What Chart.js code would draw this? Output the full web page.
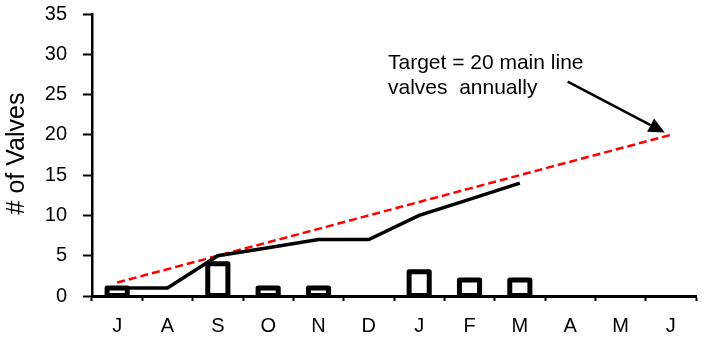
<!DOCTYPE html>
<html>
<head>
<meta charset="utf-8">
<script src="https://cdn.jsdelivr.net/npm/chart.js@4/dist/chart.umd.min.js"></script>
<style>
  html, body { margin: 0; padding: 0; background: #fff; }
  #wrap { width: 705px; height: 343px; }
</style>
</head>
<body>
<div id="wrap"><canvas id="c" width="705" height="343"></canvas></div>
<script>
// Fiscal-year months (July through June)
const months = ['J', 'A', 'S', 'O', 'N', 'D', 'J', 'F', 'M', 'A', 'M', 'J'];
// Main line valves exercised each month
const monthlyValves = [1, 0, 4, 1, 1, 0, 3, 2, 2, null, null, null];
// Running total for the year to date
const cumulativeValves = [1, 1, 5, 6, 7, 7, 10, 12, 14, null, null, null];
// Straight-line path to the annual target of 20
const targetPath = [1.67, 3.33, 5, 6.67, 8.33, 10, 11.67, 13.33, 15, 16.67, 18.33, 20];
const yTicks = [0, 5, 10, 15, 20, 25, 30, 35];

const yAxisTitle = '# of Valves';
const noteLines = ['Target = 20 main line', 'valves  annually'];

const FONT = "'Liberation Sans', Arial, sans-serif";

// Hollow monthly bars: outline stroked centred on each bar's edges
const hollowBarsPlugin = {
  id: 'hollowBars',
  afterDatasetDraw(chart, args) {
    const meta = args.meta;
    if (meta.type !== 'bar') return;
    const ctx = chart.ctx;
    ctx.save();
    ctx.strokeStyle = '#000';
    ctx.lineWidth = 5;
    ctx.lineJoin = 'round';
    meta.data.forEach((bar, i) => {
      const v = meta._parsed[i] && meta._parsed[i].y;
      if (v === null || v === undefined || v === 0 || isNaN(v)) return;
      const { x, y, base, width } = bar.getProps(['x', 'y', 'base', 'width'], true);
      ctx.strokeRect(x - width / 2, y, width, base - y);
    });
    ctx.restore();
  }
};

// Value-axis labels and rotated title
const yAxisTextPlugin = {
  id: 'yAxisText',
  afterDraw(chart) {
    const { ctx, chartArea, scales: { y } } = chart;
    ctx.save();
    ctx.fillStyle = '#000';
    ctx.font = '20px ' + FONT;
    ctx.textAlign = 'right';
    ctx.textBaseline = 'middle';
    y.ticks.forEach(t => {
      ctx.fillText(String(t.value), 67, y.getPixelForValue(t.value));
    });
    ctx.translate(17, (chartArea.top + chartArea.bottom) / 2 - 1.5);
    ctx.rotate(-Math.PI / 2);
    ctx.font = '25px ' + FONT;
    ctx.textAlign = 'center';
    ctx.fillText(yAxisTitle, 0, 0);
    ctx.restore();
  }
};

// Callout text with an arrow pointing at the year-end target
const calloutPlugin = {
  id: 'callout',
  afterDatasetsDraw(chart) {
    const { ctx, scales: { x, y } } = chart;
    ctx.save();
    ctx.fillStyle = '#000';
    ctx.font = '21px ' + FONT;
    ctx.textBaseline = 'alphabetic';
    ctx.textAlign = 'left';
    const tx = x.getPixelForValue(5.38);
    ctx.fillText(noteLines[0], tx, y.getPixelForValue(28.2));
    ctx.fillText(noteLines[1], tx, y.getPixelForValue(25.1));

    const x0 = x.getPixelForValue(8.95), y0 = y.getPixelForValue(26.6);
    const x1 = x.getPixelForValue(10.88), y1 = y.getPixelForValue(20.3);
    const ang = Math.atan2(y1 - y0, x1 - x0);
    const headLen = 16, headW = 7.5;
    const bx = x1 - headLen * Math.cos(ang), by = y1 - headLen * Math.sin(ang);
    ctx.strokeStyle = '#000';
    ctx.lineWidth = 2.5;
    ctx.beginPath();
    ctx.moveTo(x0, y0);
    ctx.lineTo(bx, by);
    ctx.stroke();
    ctx.beginPath();
    ctx.moveTo(x1, y1);
    ctx.lineTo(bx + headW * Math.sin(ang), by - headW * Math.cos(ang));
    ctx.lineTo(bx - headW * Math.sin(ang), by + headW * Math.cos(ang));
    ctx.closePath();
    ctx.fill();
    ctx.restore();
  }
};

new Chart(document.getElementById('c'), {
  type: 'bar',
  data: {
    labels: months,
    datasets: [
      {
        type: 'line',
        label: 'Target',
        data: targetPath,
        borderColor: '#ff0000',
        borderWidth: 2.5,
        borderDash: [8, 4],
        pointRadius: 0,
        fill: false,
        order: 1
      },
      {
        type: 'line',
        label: 'Cumulative',
        data: cumulativeValves,
        borderColor: '#000',
        borderWidth: 3.5,
        pointRadius: 0,
        fill: false,
        spanGaps: false,
        order: 0
      },
      {
        type: 'bar',
        label: 'Monthly',
        data: monthlyValves,
        backgroundColor: '#fff',
        borderWidth: 0,
        barPercentage: 0.4,
        categoryPercentage: 1,
        order: 2
      }
    ]
  },
  options: {
    responsive: false,
    animation: false,
    layout: { padding: { top: 0, right: 9, left: 0, bottom: 0 } },
    plugins: {
      legend: { display: false },
      tooltip: { enabled: false },
      title: { display: false }
    },
    scales: {
      x: {
        offset: true,
        grid: {
          display: true,
          offset: true,
          drawOnChartArea: false,
          drawTicks: true,
          tickLength: 5,
          tickWidth: 2,
          color: '#000'
        },
        border: { display: true, color: '#000', width: 3 },
        ticks: {
          color: '#000',
          padding: 13,
          font: { family: FONT, size: 20 },
          maxRotation: 0,
          autoSkip: false
        },
        afterFit(scale) { scale.height = 47; }
      },
      y: {
        min: 0,
        max: 35,
        afterBuildTicks(scale) { scale.ticks = yTicks.map(v => ({ value: v })); },
        grid: {
          display: true,
          drawOnChartArea: false,
          drawTicks: true,
          tickLength: 9,
          tickWidth: 2,
          color: '#000'
        },
        border: { display: true, color: '#000', width: 2.5 },
        ticks: { display: false },
        afterFit(scale) {
          scale.width = 92;
          scale.paddingTop = 14;
        }
      }
    }
  },
  plugins: [hollowBarsPlugin, yAxisTextPlugin, calloutPlugin]
});
</script>
</body>
</html>
